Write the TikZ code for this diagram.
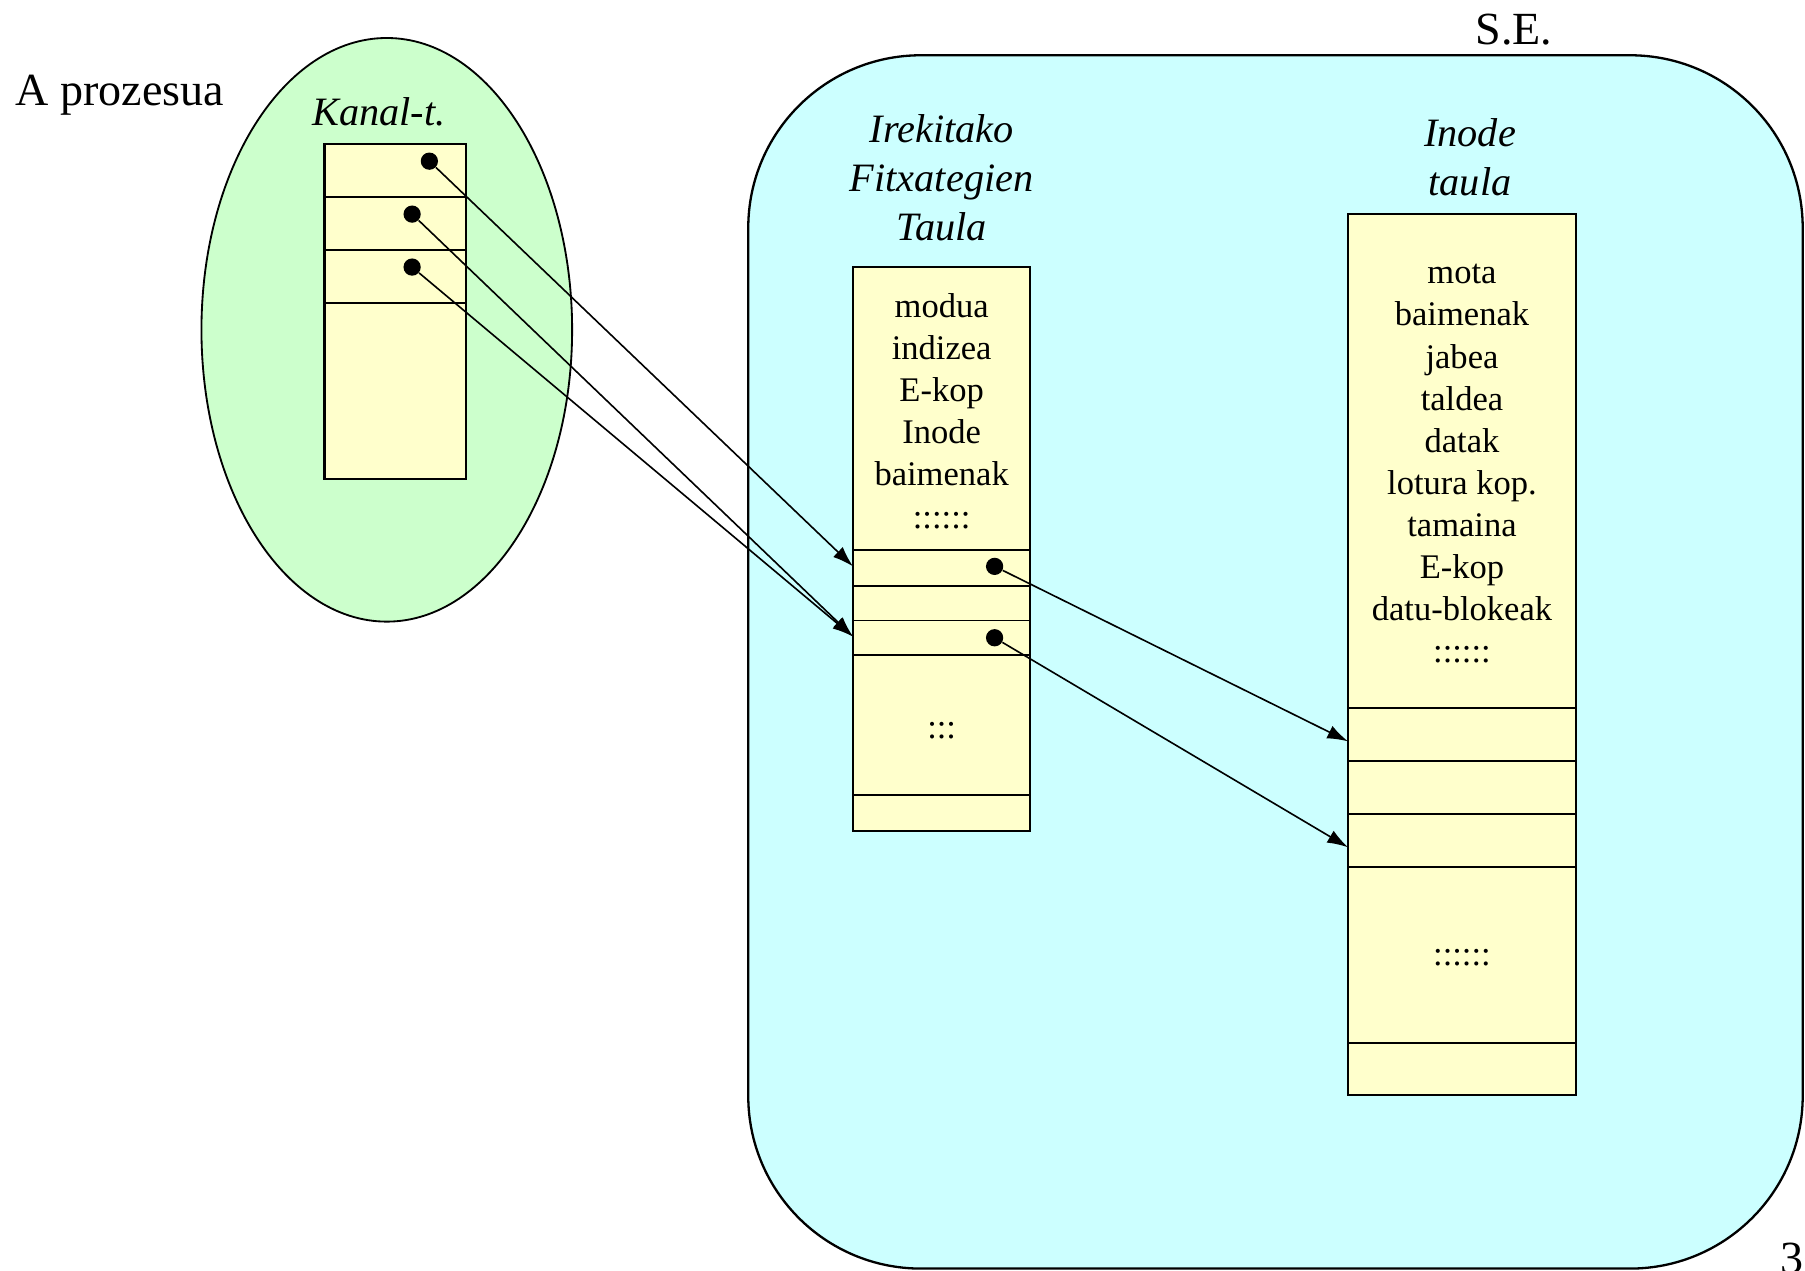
\documentclass[tikz,border=0pt]{standalone}
\usepackage{fontspec}
\setmainfont{Liberation Serif}
\usetikzlibrary{arrows.meta,shapes.geometric}
\definecolor{pgreen}{HTML}{CCFFCC}
\definecolor{sblue}{HTML}{CCFFFF}
\definecolor{tyellow}{HTML}{FFFFCC}
\begin{document}
\begin{tikzpicture}[x=0.5pt,y=-0.5pt,
  lbl/.style={font=\fontsize{20}{24}\selectfont, inner sep=0pt},
  hdr/.style={font=\fontsize{17.5}{21.25}\selectfont\itshape, align=center, inner sep=0pt},
  cnt/.style={font=\fontsize{15}{18.3}\selectfont, align=center, inner sep=0pt},
  tbl/.style={draw, line width=1pt, fill=tyellow, inner sep=0pt},
  rowline/.style={line width=0.85pt},
  dotn/.style={circle, fill=black, inner sep=0pt, minimum size=7.5pt},
  arr/.style={line width=0.7pt, -{Latex[length=9pt,width=6pt]}}]
\useasboundingbox (0,0) rectangle (1568,1104);
% process ellipse
\node[ellipse, draw, line width=0.8pt, fill=pgreen, minimum width=161pt, minimum height=253.5pt] (proc) at (336,286.5) {};
% system rounded rectangle
\node[draw, line width=1pt, fill=sblue, rounded corners=75pt, minimum width=458pt, minimum height=527pt, inner sep=0pt] (sys) at (1108,575) {};
% labels
\node[lbl, anchor=base] (aproz) at (104,92) {A prozesua};
\node[lbl, anchor=base] (sel) at (1315,39) {S.E.};
\node[lbl, anchor=base west] (pnum) at (1546,1106) {36};
\node[hdr] (kanl) at (329,97) {Kanal-t.};
\node[hdr] (fitl) at (818,154.5) {Irekitako\\Fitxategien\\Taula};
\node[hdr] (inol) at (1277,136.5) {Inode\\taula};
% Kanal table
\node[tbl, minimum width=61.5pt, minimum height=145.5pt] (kt) at (343.5,270.5) {};
\foreach \yy in {171,217,263} \draw[rowline] (282,\yy) -- (405,\yy);
% File table
\node[tbl, minimum width=77pt, minimum height=245pt] (ft) at (818,477) {};
\foreach \yy in {478,509,539,569,691} \draw[rowline] (741,\yy) -- (895,\yy);
\node[cnt] (ftc) at (818,357) {modua\\indizea\\E-kop\\Inode\\baimenak\\::::::};
\node[cnt] (ftd) at (818,635) {:::};
% Inode table
\node[tbl, minimum width=99pt, minimum height=382.5pt] (it) at (1270,568.5) {};
\foreach \yy in {615,661,707,753,906} \draw[rowline] (1171,\yy) -- (1369,\yy);
\node[cnt] (itc) at (1270,403) {mota\\baimenak\\jabea\\taldea\\datak\\lotura kop.\\tamaina\\E-kop\\datu-blokeak\\::::::};
\node[cnt] (itd) at (1270,832) {::::::};
% pointer dots
\node[dotn] (k1) at (373,140) {};
\node[dotn] (k2) at (358,186) {};
\node[dotn] (k3) at (358,232) {};
\node[dotn] (f1) at (864,492) {};
\node[dotn] (f3) at (864,554) {};
% arrow targets
\coordinate (ft1) at (741,492);
\coordinate (ft3) at (741,553);
\coordinate (it1) at (1171,644);
\coordinate (it3) at (1171,736);
% connectors
\draw[arr] (k1) -- (ft1);
\draw[arr] (k2) -- (ft3);
\draw[arr] (k3) -- (ft3);
\draw[arr] (f1) -- (it1);
\draw[arr] (f3) -- (it3);
\end{tikzpicture}
\end{document}
